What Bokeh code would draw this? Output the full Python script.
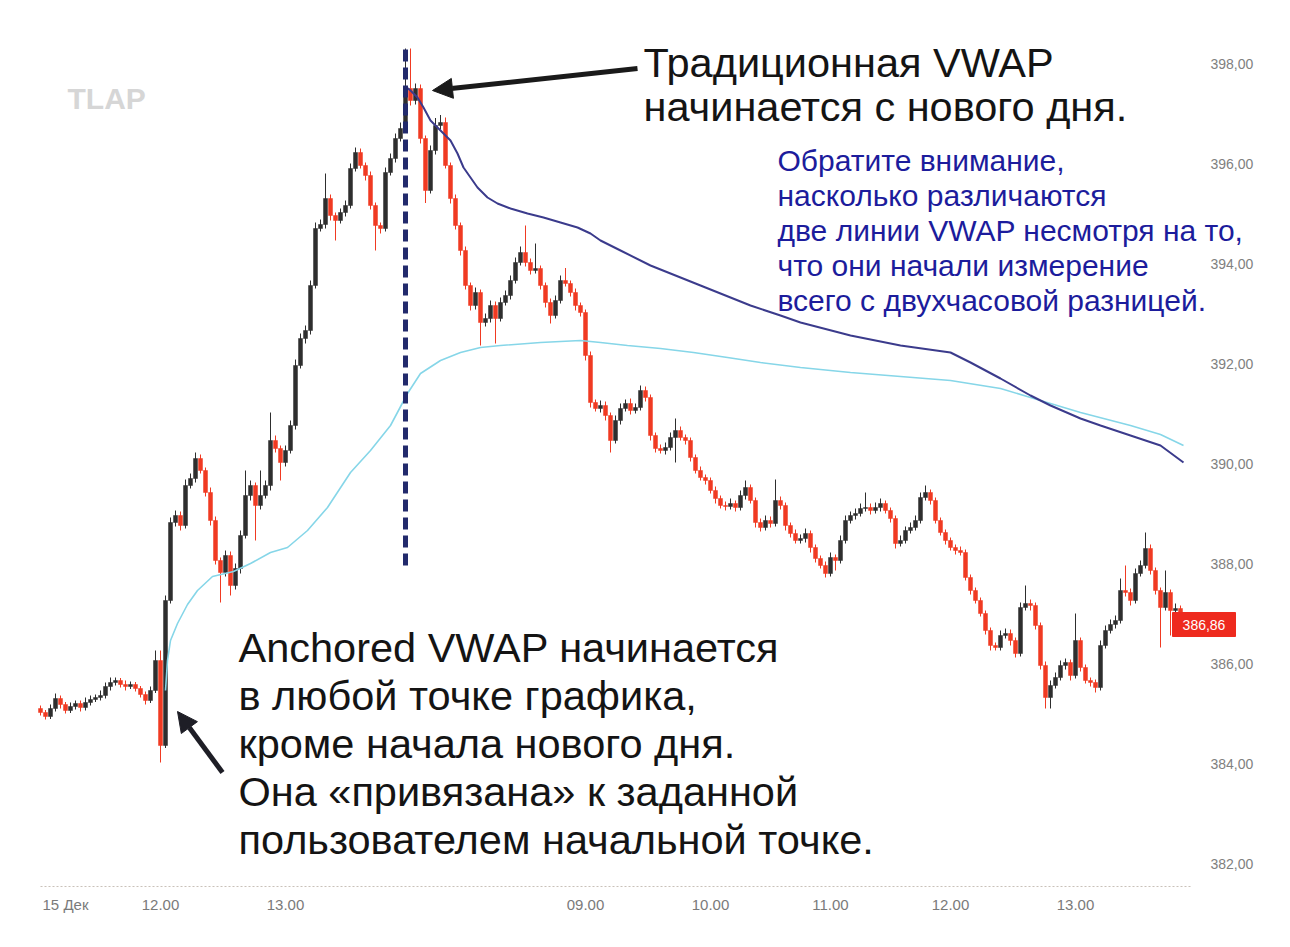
from bokeh.plotting import figure
from bokeh.models import Range1d, FixedTicker, Label, Arrow, NormalHead, ColumnDataSource
from bokeh.core.properties import value
from bokeh.embed import file_html
from bokeh.resources import INLINE

# ---------------- data ----------------
closes = [
    385.02, 384.94, 385.10, 385.30, 385.18, 385.06, 385.14, 385.20, 385.12, 385.22,
    385.28, 385.32, 385.36, 385.54, 385.62, 385.66, 385.58, 385.54, 385.58, 385.50,
    385.38, 385.26, 385.46, 386.06, 384.36, 387.26, 388.82, 388.96, 388.76, 389.56,
    389.70, 390.10, 389.86, 389.42, 388.86, 388.06, 387.82, 388.16, 387.56, 387.90,
    388.56, 389.36, 389.56, 389.16, 389.36, 389.56, 390.46, 390.30, 390.02, 390.26,
    390.76, 391.96, 392.50, 392.66, 393.56, 394.70, 394.78, 395.30, 394.96, 394.86,
    395.02, 395.16, 395.90, 396.22, 395.96, 395.76, 395.16, 394.76, 394.70, 395.82,
    396.10, 396.50, 396.70, 397.50, 397.26, 397.50, 396.50, 395.46, 396.26, 396.76,
    396.82, 395.96, 395.30, 394.76, 394.26, 393.56, 393.16, 393.42, 392.82, 392.90,
    393.16, 392.90, 393.22, 393.36, 393.66, 394.02, 394.22, 394.02, 393.86, 393.90,
    393.56, 393.22, 392.96, 393.26, 393.66, 393.60, 393.42, 393.16, 393.02, 392.16,
    391.22, 391.10, 391.16, 390.96, 390.46, 390.86, 391.10, 391.20, 391.06, 391.12,
    391.46, 391.32, 390.56, 390.30, 390.26, 390.32, 390.52, 390.66, 390.52, 390.46,
    390.12, 389.86, 389.72, 389.66, 389.46, 389.30, 389.16, 389.14, 389.20, 389.12,
    389.36, 389.52, 389.26, 388.82, 388.72, 388.86, 388.80, 389.26, 389.16, 388.76,
    388.60, 388.46, 388.50, 388.60, 388.32, 388.10, 387.96, 387.80, 388.12, 388.06,
    388.46, 388.86, 388.96, 389.00, 389.10, 389.12, 389.06, 389.12, 389.20, 389.06,
    388.90, 388.40, 388.46, 388.66, 388.72, 388.86, 389.32, 389.42, 389.26, 388.86,
    388.62, 388.46, 388.32, 388.26, 388.22, 387.72, 387.46, 387.26, 387.00, 386.66,
    386.36, 386.32, 386.56, 386.60, 386.46, 386.20, 387.12, 387.20, 387.16, 386.76,
    385.96, 385.32, 385.56, 385.72, 385.96, 386.02, 385.76, 386.46, 385.92, 385.66,
    385.62, 385.52, 386.36, 386.66, 386.78, 386.86, 387.46, 387.42, 387.26, 387.80,
    387.96, 388.30, 387.86, 387.46, 387.12, 387.42, 387.06, 387.10, 386.96, 386.86,
]
first_open = 385.10

upper_wick = [
    .06, .05, .08, .10, .06, .05, .08, .06, .06, .10,
    .08, .06, .10, .08, .10, .06, .05, .08, .06, .05,
    .05, .06, .08, .20, .20, .10, .10, .10, .08, .12,
    .10, .12, .08, .06, .10, .08, .06, .10, .08, .10,
    .10, .50, .10, .06, .50, .10, .56, .10, .06, .10,
    .10, .12, .10, .10, .10, .12, .10, .50, .08, .06,
    .08, .10, .10, .10, .08, .06, .08, .06, .06, .10,
    .10, .10, .12, .80, .80, .10, .08, .06, .10, .15,
    .15, .10, .06, .08, .06, .08, .06, .10, .06, .10,
    .10, .08, .10, .10, .10, .10, .12, .54, .08, .50,
    .06, .06, .08, .10, .10, .25, .06, .08, .06, .06,
    .08, .06, .10, .08, .06, .10, .10, .08, .10, .08,
    .10, .08, .06, .06, .08, .10, .10, .24, .08, .06,
    .06, .06, .08, .06, .06, .08, .06, .08, .10, .06,
    .10, .14, .06, .06, .08, .10, .08, .42, .08, .06,
    .06, .08, .08, .10, .06, .06, .06, .08, .10, .06,
    .10, .10, .08, .10, .10, .30, .08, .10, .10, .06,
    .06, .06, .10, .08, .10, .10, .10, .14, .06, .06,
    .06, .06, .06, .06, .08, .06, .06, .06, .06, .06,
    .06, .06, .10, .10, .08, .06, .10, .36, .08, .06,
    .06, .08, .10, .10, .10, .08, .06, .54, .06, .06,
    .06, .06, .10, .10, .10, .10, .24, .50, .08, .10,
    .10, .32, .08, .06, .06, .44, .06, .10, .06, .06,
]
lower_wick = [
    .06, .06, .05, .06, .08, .06, .05, .06, .08, .06,
    .06, .05, .06, .06, .08, .06, .06, .08, .05, .06,
    .06, .08, .05, .05, .34, .05, .06, .08, .10, .06,
    .06, .08, .06, .08, .10, .08, .60, .08, .20, .08,
    .10, .06, .10, .70, .08, .06, .10, .08, .36, .08,
    .06, .08, .06, .10, .08, .06, .06, .08, .10, .40,
    .06, .08, .06, .06, .06, .10, .08, .50, .10, .06,
    .06, .08, .06, .06, .10, .08, .10, .25, .06, .08,
    .08, .06, .10, .08, .10, .08, .10, .08, .46, .08,
    .08, .50, .06, .06, .08, .06, .06, .08, .08, .06,
    .08, .10, .16, .06, .06, .06, .08, .10, .08, .10,
    .10, .06, .08, .10, .24, .06, .08, .06, .08, .06,
    .06, .08, .10, .08, .06, .08, .06, .50, .06, .08,
    .08, .06, .06, .08, .06, .10, .06, .08, .06, .08,
    .06, .08, .06, .10, .08, .06, .08, .06, .08, .10,
    .08, .06, .06, .08, .10, .08, .06, .08, .06, .20,
    .06, .06, .06, .08, .06, .06, .08, .06, .08, .06,
    .08, .10, .06, .06, .06, .06, .06, .06, .08, .06,
    .06, .08, .06, .08, .06, .06, .08, .06, .06, .08,
    .10, .06, .06, .06, .10, .08, .06, .06, .10, .08,
    .08, .22, .22, .06, .06, .08, .10, .06, .08, .06,
    .08, .10, .06, .06, .06, .08, .06, .08, .10, .06,
    .06, .06, .08, .08, .80, .06, .50, .08, .08, .10,
]

# traditional (daily) VWAP, sampled along the curve
vwap_day_idx = [73, 74, 75.4, 76.6, 78, 79.4, 80.6, 82, 83.4, 84.6, 86, 87.4, 89.4, 91.4,
                94, 97.4, 100.6, 104, 107.4, 110, 112, 116, 122, 132, 142, 148, 152,
                162, 172, 182, 186, 192, 198, 202, 208, 212, 218, 224, 228.6]
vwap_day_val = [397.54, 397.46, 397.32, 397.12, 396.86, 396.72, 396.60, 396.46, 396.20,
                395.92, 395.72, 395.52, 395.32, 395.20, 395.10, 395.00, 394.92, 394.82,
                394.72, 394.60, 394.46, 394.26, 393.96, 393.56, 393.16, 392.96, 392.82,
                392.56, 392.36, 392.22, 392.02, 391.70, 391.36, 391.16, 390.90, 390.76,
                390.56, 390.36, 390.02]

# anchored VWAP, sampled along the curve
avwap_idx = [25, 25.4, 26, 27.4, 29.4, 31.4, 34.4, 38.6, 42, 46, 49.4, 53.4, 57.4, 62,
             66, 70, 73.4, 76, 80, 84, 88, 92, 100, 108, 112, 117.4, 124, 130.6, 137.4,
             144, 152, 162, 172, 182, 192, 200, 208, 218, 224, 228.6]
avwap_val = [385.46, 386.06, 386.46, 386.80, 387.18, 387.46, 387.74, 387.84, 388.00,
             388.22, 388.32, 388.66, 389.12, 389.82, 390.26, 390.76, 391.40, 391.80,
             392.06, 392.22, 392.32, 392.36, 392.42, 392.46, 392.42, 392.36, 392.30,
             392.22, 392.12, 392.02, 391.92, 391.82, 391.74, 391.66, 391.50, 391.26,
             391.02, 390.76, 390.58, 390.36]

price_ticks = [382, 384, 386, 388, 390, 392, 394, 396, 398]
price_tick_labels = ["382,00", "384,00", "386,00", "388,00", "390,00", "392,00",
                     "394,00", "396,00", "398,00"]
time_tick_idx = [5, 24, 49, 109, 134, 158, 182, 207]
time_tick_labels = ["15 Дек", "12.00", "13.00", "09.00", "10.00", "11.00", "12.00", "13.00"]
day_start_idx = 73

# ---------------- derived candle table ----------------
n = len(closes)
opens = [first_open] + closes[:-1]
tops = [max(o, c) for o, c in zip(opens, closes)]
bottoms = [min(o, c) for o, c in zip(opens, closes)]
highs = [t + u for t, u in zip(tops, upper_wick)]
lows = [b - l for b, l in zip(bottoms, lower_wick)]
UP, DOWN = "#2e2e2e", "#f03a22"
colors = [UP if c >= o else DOWN for o, c in zip(opens, closes)]
src = ColumnDataSource(dict(x=list(range(n)), top=tops, bottom=bottoms,
                            high=highs, low=lows, color=colors))

# ---------------- layout helpers (pixel -> data) ----------------
W, H = 1290, 947
FRAME_W, FRAME_H = 1290, 888
PX_PER_X, PX_PER_Y = 5.0, 50.0
X_LO = -8.0
X_HI = X_LO + FRAME_W / PX_PER_X
Y_HI = 399.26
Y_LO = Y_HI - FRAME_H / PX_PER_Y


def dx(px):
    return X_LO + px / PX_PER_X


def dy(py):
    return Y_HI - py / PX_PER_Y


FONT = "Liberation Sans"

p = figure(width=W, height=H, x_range=Range1d(X_LO, X_HI), y_range=Range1d(Y_LO, Y_HI),
           y_axis_location=None, output_backend="svg", toolbar_location=None,
           min_border_left=0, min_border_right=0, min_border_top=0,
           min_border_bottom=H - FRAME_H)
p.outline_line_color = None
p.grid.visible = False
p.background_fill_color = "white"
p.border_fill_color = "white"

# x axis (labels only; the dotted base line is drawn below)
p.xaxis.ticker = FixedTicker(ticks=time_tick_idx)
p.xaxis.major_label_overrides = dict(zip(time_tick_idx, time_tick_labels))
p.xaxis.axis_line_color = None
p.xaxis.major_tick_line_color = None
p.xaxis.minor_tick_line_color = None
p.xaxis.major_label_standoff = 1
p.xaxis.major_label_text_color = "#7a7a7a"
p.xaxis.major_label_text_font = FONT
p.xaxis.major_label_text_font_size = "15px"

# dotted base line of the time scale
p.segment(x0=[dx(40)], y0=[dy(886)], x1=[dx(1190)], y1=[dy(886)],
          line_color="#c9c1b9", line_width=1.2, line_dash="2 2")

# price scale labels on the right
p.text(x=[dx(1210)] * len(price_ticks), y=price_ticks, text=price_tick_labels,
       text_font=value(FONT), text_font_size="14px", text_color="#808080",
       text_align="left", text_baseline="middle")

# candles
p.segment(x0="x", y0="low", x1="x", y1="high", line_color="color", line_width=1, source=src)
p.vbar(x="x", width=0.8, top="top", bottom="bottom", fill_color="color",
       line_color="color", line_width=0.5, source=src)

# VWAP lines
p.line(avwap_idx, avwap_val, line_color="#86d6e8", line_width=1.6)
p.line(vwap_day_idx, vwap_day_val, line_color="#3b3b8c", line_width=2)

# day boundary dashed line
p.segment(x0=[day_start_idx], y0=[dy(565)], x1=[day_start_idx], y1=[dy(45)],
          line_color="#222a6c", line_width=5, line_dash="12 6")

# arrows
p.add_layout(Arrow(end=NormalHead(size=20, fill_color="#1a1a1a", line_color="#1a1a1a"),
                   x_start=dx(637), y_start=dy(68), x_end=dx(432), y_end=dy(90),
                   line_color="#1a1a1a", line_width=5))
p.add_layout(Arrow(end=NormalHead(size=20, fill_color="#1e1e26", line_color="#1e1e26"),
                   x_start=dx(222), y_start=dy(772), x_end=dx(177), y_end=dy(711),
                   line_color="#1e1e26", line_width=5))


# texts (baseline pixel positions; labels render ~0.35 em low, so lift them)
def add_text(txt, px, py, size, color, style="normal"):
    lift = 0.35 * size
    p.add_layout(Label(x=dx(px), y=dy(py - lift), text=txt, text_font=FONT,
                       text_font_size=f"{size}px", text_color=color,
                       text_font_style=style, text_align="left",
                       text_baseline="alphabetic"))


add_text("TLAP", 67, 108, 30, "#d6d6d6", "bold")

top_lines = ["Традиционная VWAP", "начинается с нового дня."]
for k, t in enumerate(top_lines):
    add_text(t, 643, 77 + 44 * k, 41.5, "#141414")

blue_lines = ["Обратите внимание,", "насколько различаются",
              "две линии VWAP несмотря на то,", "что они начали измерение",
              "всего с двухчасовой разницей."]
for k, t in enumerate(blue_lines):
    add_text(t, 777, 170 + 35 * k, 30, "#1c1c9c")

bottom_lines = ["Anchored VWAP начинается", "в любой точке графика,",
                "кроме начала нового дня.", "Она «привязана» к заданной",
                "пользователем начальной точке."]
for k, t in enumerate(bottom_lines):
    add_text(t, 238, 662 + 48 * k, 41.5, "#141414")

# last price tag (box + text)
last_txt = f"{closes[-1]:.2f}".replace(".", ",")
p.quad(left=[dx(1172)], right=[dx(1235)], top=[dy(612)], bottom=[dy(636)],
       fill_color="#ee2a1e", line_color="#ee2a1e")
p.text(x=[dx(1203.5)], y=[dy(624)], text=[last_txt], text_font=value(FONT),
       text_font_size="14px", text_color="white", text_align="center",
       text_baseline="middle")

open("out.html", "w", encoding="utf-8").write(file_html(p, INLINE))
